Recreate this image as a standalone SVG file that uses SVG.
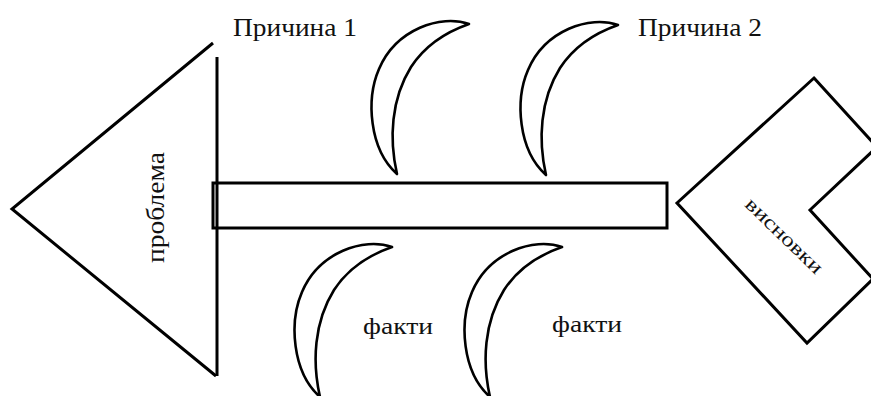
<svg xmlns="http://www.w3.org/2000/svg" width="871" height="396" viewBox="0 0 871 396">
<style>
.ln{fill:none;stroke:#000;stroke-width:3;stroke-linejoin:miter}
.sh{fill:#fff;stroke:#000;stroke-width:3}
.cr{fill:#fff;stroke:#000;stroke-width:2.6;stroke-linejoin:round}
.tx{font-family:"Liberation Serif","Times New Roman",serif;fill:#111}
</style>
<defs>
<path id="crescent" d="M72,-150 C44,-160 -1,-145 -18,-105 C-31,-75 -28,-25 0,0 C-8,-35 -6,-75 14,-107 C29,-130 49,-142 72,-150 Z"/>
</defs>
<rect width="871" height="396" fill="#fff"/>
<g id="spine">
<rect class="ln" x="213" y="183" width="454" height="45"/>
</g>
<g id="problem">
<path class="ln" d="M213,43 L12,209 L216,376"/>
<path class="ln" d="M217,57 L217,376"/>
<text class="tx" font-size="26" transform="translate(164,263) rotate(-90)" textLength="111" lengthAdjust="spacingAndGlyphs">проблема</text>
</g>
<g id="connectors">
<use href="#crescent" class="cr" transform="translate(397,174)"/>
<use href="#crescent" class="cr" transform="translate(546,175)"/>
<use href="#crescent" class="cr" transform="translate(320,397)"/>
<use href="#crescent" class="cr" transform="translate(490,397)"/>
</g>
<g id="cause1">
<text class="tx" x="233" y="36" font-size="25" textLength="124" lengthAdjust="spacingAndGlyphs">Причина 1</text>
</g>
<g id="cause2">
<text class="tx" x="638" y="36" font-size="25" textLength="124" lengthAdjust="spacingAndGlyphs">Причина 2</text>
</g>
<g id="facts1">
<text class="tx" x="363" y="334" font-size="23" textLength="70" lengthAdjust="spacingAndGlyphs">факти</text>
</g>
<g id="facts2">
<text class="tx" x="552" y="332" font-size="23" textLength="70" lengthAdjust="spacingAndGlyphs">факти</text>
</g>
<g id="conclusions">
<polygon class="sh" points="814,78 877,147 810,210 873,279 807,343 677,203"/>
<text class="tx" font-size="20" text-anchor="middle" transform="translate(784,236) rotate(44)" y="6" textLength="100" lengthAdjust="spacingAndGlyphs">висновки</text>
</g>
</svg>
